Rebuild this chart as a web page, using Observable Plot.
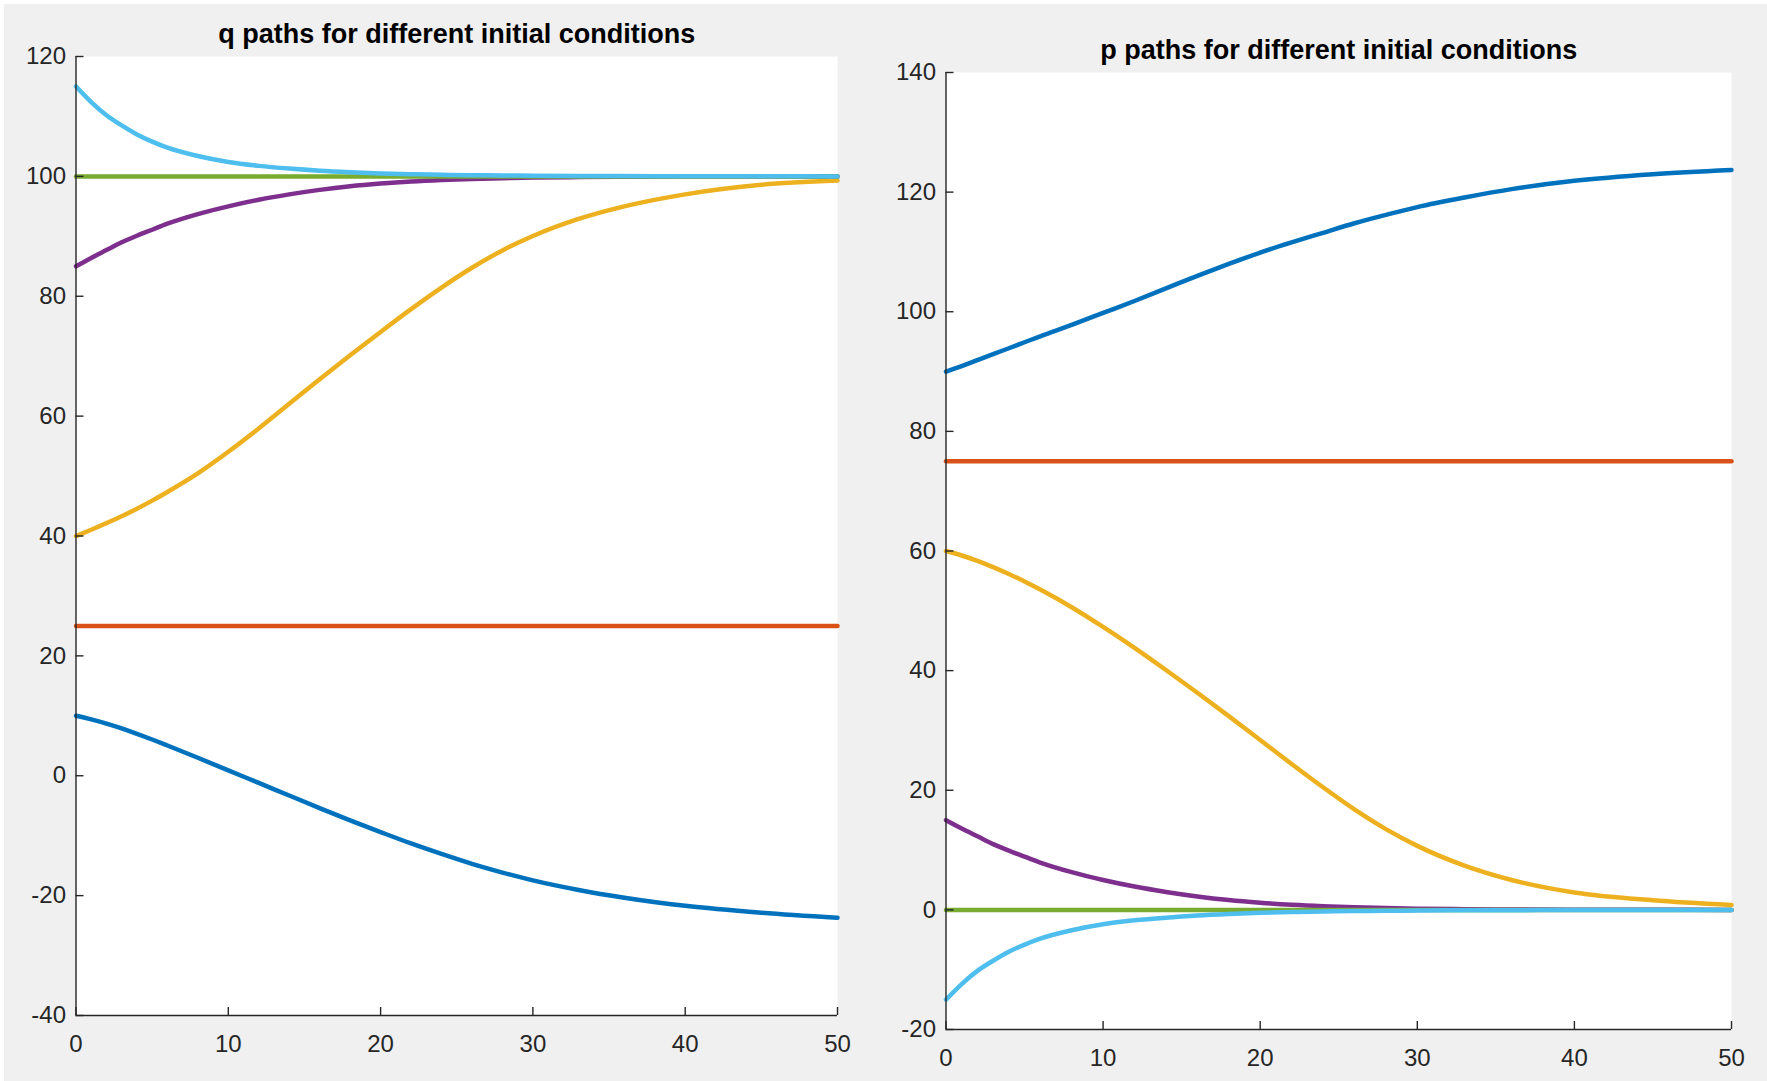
<!DOCTYPE html>
<html><head><meta charset="utf-8">
<script src="https://cdn.jsdelivr.net/npm/d3@7"></script>
<script src="https://cdn.jsdelivr.net/npm/@observablehq/plot@0.6"></script>
<style>
html,body{margin:0;padding:0;background:#ffffff;}
#fig{position:relative;width:1767px;height:1081px;background:#ffffff;overflow:hidden;}
#bg{position:absolute;left:4px;top:4px;right:0;bottom:0;background:#f0f0f0;}
#fig svg{position:absolute;left:0;top:0;}
</style></head><body><div id="fig"><div id="bg"></div></div>
<script>
// time samples (x axis)
const t = [0, 1, 2, 3, 4, 5, 6, 8, 10, 12, 14, 16, 18, 20, 22, 24, 26, 28, 30, 33, 36, 40, 45, 50];

// series order (MATLAB default colour order)
const seriesNames = ["s1", "s2", "s3", "s4", "s5", "s6"];
const seriesColors = ["#0072BD", "#D95319", "#EDB120", "#7E2F8E", "#77AC30", "#4DBEEE"];

// q paths
const qBlue   = [10, 9.4, 8.7, 7.9, 7.0, 6.05, 5.05, 3.0, 0.9, -1.2, -3.3, -5.4, -7.45, -9.4, -11.3, -13.05, -14.7, -16.15, -17.45, -19.05, -20.35, -21.7, -22.85, -23.7];
const qRed    = [25, 25, 25, 25, 25, 25, 25, 25, 25, 25, 25, 25, 25, 25, 25, 25, 25, 25, 25, 25, 25, 25, 25, 25];
const qYellow = [40, 41.05, 42.15, 43.3, 44.55, 45.9, 47.35, 50.45, 54.05, 57.95, 62.05, 66.15, 70.15, 74.05, 77.85, 81.45, 84.75, 87.65, 90.05, 92.9, 95.0, 97.0, 98.6, 99.3];
const qPurple = [85, 86.4, 87.7, 89.0, 90.1, 91.1, 92.1, 93.7, 95.0, 96.1, 97.0, 97.75, 98.35, 98.8, 99.15, 99.4, 99.58, 99.7, 99.8, 99.88, 99.93, 99.97, 99.99, 100];
const qGreen  = [100, 100, 100, 100, 100, 100, 100, 100, 100, 100, 100, 100, 100, 100, 100, 100, 100, 100, 100, 100, 100, 100, 100, 100];
const qLight  = [115, 112.4, 110.2, 108.5, 107.0, 105.8, 104.8, 103.4, 102.4, 101.75, 101.3, 100.95, 100.7, 100.5, 100.37, 100.27, 100.2, 100.15, 100.11, 100.07, 100.05, 100.03, 100.01, 100];

// p paths
const pBlue   = [90, 90.9, 91.9, 92.9, 93.9, 94.9, 95.9, 97.8, 99.8, 101.8, 103.9, 106.0, 108.0, 109.9, 111.6, 113.2, 114.8, 116.2, 117.5, 119.1, 120.5, 121.9, 123.0, 123.7];
const pRed    = [75, 75, 75, 75, 75, 75, 75, 75, 75, 75, 75, 75, 75, 75, 75, 75, 75, 75, 75, 75, 75, 75, 75, 75];
const pYellow = [60, 59.25, 58.35, 57.3, 56.15, 54.9, 53.55, 50.6, 47.3, 43.8, 40.1, 36.3, 32.4, 28.4, 24.4, 20.5, 16.8, 13.5, 10.7, 7.4, 5.0, 2.9, 1.6, 0.8];
const pPurple = [15, 13.6, 12.3, 11.0, 9.9, 8.9, 7.9, 6.3, 5.0, 3.9, 3.0, 2.25, 1.65, 1.2, 0.85, 0.6, 0.42, 0.3, 0.2, 0.12, 0.07, 0.03, 0.01, 0];
const pGreen  = [0, 0, 0, 0, 0, 0, 0, 0, 0, 0, 0, 0, 0, 0, 0, 0, 0, 0, 0, 0, 0, 0, 0, 0];
const pLight  = [-15, -12.4, -10.2, -8.5, -7.0, -5.8, -4.8, -3.4, -2.4, -1.75, -1.3, -0.95, -0.7, -0.5, -0.37, -0.27, -0.2, -0.15, -0.11, -0.07, -0.05, -0.03, -0.01, 0];

// ticks
const xTicks = [0, 10, 20, 30, 40, 50];
const qTicks = [-40, -20, 0, 20, 40, 60, 80, 100, 120];
const pTicks = [-20, 0, 20, 40, 60, 80, 100, 120, 140];

const qTitle = "q paths for different initial conditions";
const pTitle = "p paths for different initial conditions";

function toLong(arrays) {
  const out = [];
  arrays.forEach((arr, i) => arr.forEach((v, j) => out.push({t: t[j], v, s: seriesNames[i]})));
  return out;
}
const qData = toLong([qBlue, qRed, qYellow, qPurple, qGreen, qLight]);
const pData = toLong([pBlue, pRed, pYellow, pPurple, pGreen, pLight]);

const W = 1767, H = 1081;
const font = "'Liberation Sans', Arial, Helvetica, sans-serif";
const ink = "#262626";

function panel({data, yTicks, title, mL, mR, mT, mB}) {
  const pw = W - mL - mR, ph = H - mT - mB;
  const ymin = yTicks[0], ymax = yTicks[yTicks.length - 1];
  return Plot.plot({
    width: W, height: H,
    marginLeft: mL, marginRight: mR, marginTop: mT, marginBottom: mB,
    style: {fontFamily: font, fontSize: "24px", background: "transparent", color: ink, overflow: "visible"},
    x: {domain: [0, 50], label: null},
    y: {domain: [ymin, ymax], label: null},
    color: {domain: seriesNames, range: seriesColors},
    marks: [
      Plot.frame({fill: "white", stroke: "none"}),
      Plot.line(data, {x: "t", y: "v", z: "s", stroke: "s", strokeWidth: 4.5, curve: "monotone-x"}),
      Plot.ruleX([0], {stroke: ink, strokeWidth: 1.4}),
      Plot.ruleY([ymin], {stroke: ink, strokeWidth: 1.4}),
      Plot.tickY(yTicks, {y: d => d, stroke: ink, strokeWidth: 1.4, insetRight: pw - 8}),
      Plot.tickX(xTicks, {x: d => d, stroke: ink, strokeWidth: 1.4, insetTop: ph - 8}),
      Plot.axisY({ticks: yTicks, tickSize: 0, tickPadding: 10, tickFormat: d => String(d), fontSize: 24, fill: ink, label: null}),
      Plot.axisX({ticks: xTicks, tickSize: 0, tickPadding: 19, tickFormat: d => String(d), fontSize: 24, fill: ink, label: null}),
      Plot.text([title], {frameAnchor: "top", dy: -14, lineAnchor: "bottom", fontWeight: "bold", fontSize: 27, fill: "#000"})
    ]
  });
}

const fig = document.getElementById("fig");
fig.appendChild(panel({data: qData, yTicks: qTicks, title: qTitle, mL: 75.5, mR: W - 837, mT: 56, mB: H - 1015}));
fig.appendChild(panel({data: pData, yTicks: pTicks, title: pTitle, mL: 945.5, mR: W - 1731, mT: 72, mB: H - 1029}));
</script></body></html>
